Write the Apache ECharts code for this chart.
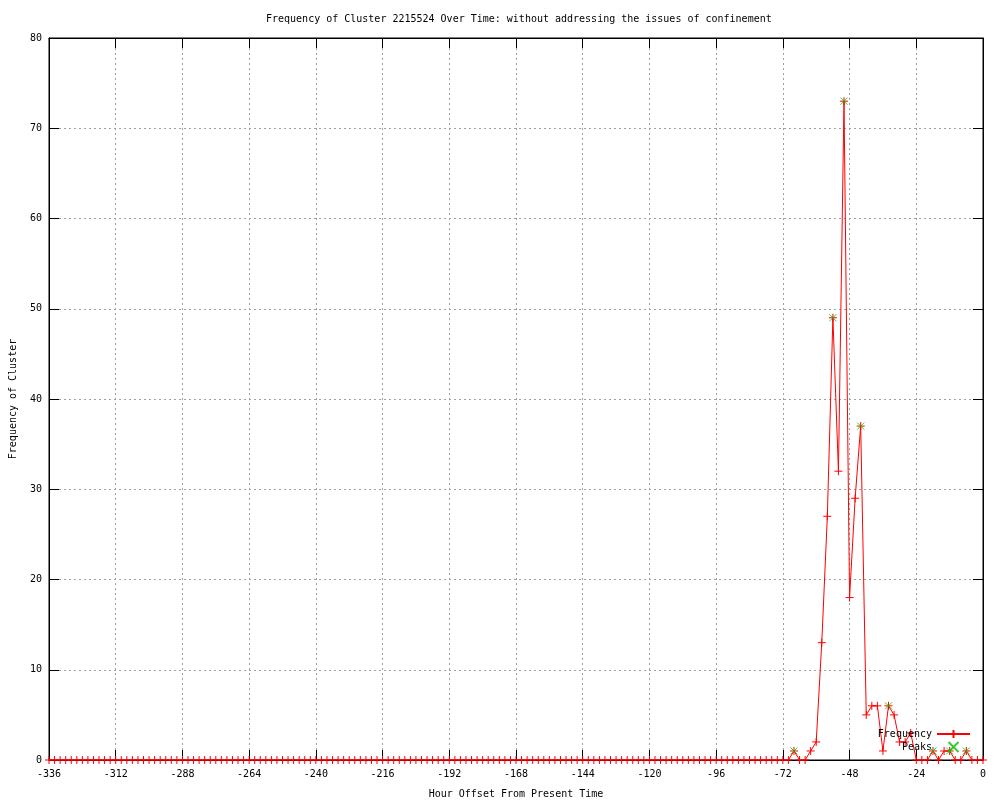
<!DOCTYPE html>
<html>
<head>
<meta charset="utf-8">
<script src="https://cdn.jsdelivr.net/npm/echarts@6/dist/echarts.min.js"></script>
<style>html,body{margin:0;padding:0;background:#fff;}#c{width:1000px;height:800px;}</style>
</head>
<body>
<div id="c"></div>
<script>
const hours = [
-336,-334,-332,-330,-328,-326,-324,-322,-320,-318,
-316,-314,-312,-310,-308,-306,-304,-302,-300,-298,
-296,-294,-292,-290,-288,-286,-284,-282,-280,-278,
-276,-274,-272,-270,-268,-266,-264,-262,-260,-258,
-256,-254,-252,-250,-248,-246,-244,-242,-240,-238,
-236,-234,-232,-230,-228,-226,-224,-222,-220,-218,
-216,-214,-212,-210,-208,-206,-204,-202,-200,-198,
-196,-194,-192,-190,-188,-186,-184,-182,-180,-178,
-176,-174,-172,-170,-168,-166,-164,-162,-160,-158,
-156,-154,-152,-150,-148,-146,-144,-142,-140,-138,
-136,-134,-132,-130,-128,-126,-124,-122,-120,-118,
-116,-114,-112,-110,-108,-106,-104,-102,-100,-98,
-96,-94,-92,-90,-88,-86,-84,-82,-80,-78,
-76,-74,-72,-70,-68,-66,-64,-62,-60,-58,
-56,-54,-52,-50,-48,-46,-44,-42,-40,-38,
-36,-34,-32,-30,-28,-26,-24,-22,-20,-18,
-16,-14,-12,-10,-8,-6,-4,-2,0];
const frequency = [
0,0,0,0,0,0,0,0,0,0,
0,0,0,0,0,0,0,0,0,0,
0,0,0,0,0,0,0,0,0,0,
0,0,0,0,0,0,0,0,0,0,
0,0,0,0,0,0,0,0,0,0,
0,0,0,0,0,0,0,0,0,0,
0,0,0,0,0,0,0,0,0,0,
0,0,0,0,0,0,0,0,0,0,
0,0,0,0,0,0,0,0,0,0,
0,0,0,0,0,0,0,0,0,0,
0,0,0,0,0,0,0,0,0,0,
0,0,0,0,0,0,0,0,0,0,
0,0,0,0,0,0,0,0,0,0,
0,0,0,0,1,0,0,1,2,13,
27,49,32,73,18,29,37,5,6,6,
1,6,5,2,2,3,0,0,0,1,
0,1,1,0,0,1,0,0,0];
const peakHours = [-68,-54,-50,-44,-34,-18,-12,-6];
const peakValues = [1,49,73,37,6,1,1,1];
const xTicks = {min:-336, max:0, interval:24};
const yTicks = {min:0, max:80, interval:10};

const FONT = 'DejaVu Sans Mono';
const freqData = hours.map((h,i)=>[h, frequency[i]]);
const peakData = peakHours.map((h,i)=>[h, peakValues[i]]);
const PLUS = 'path://M0,5L10,5M5,0L5,10';
const CROSS = 'path://M0,0L10,10M10,0L0,10';

const chart = echarts.init(document.getElementById('c'), null, {renderer:'canvas'});
const gridSplit = {show:true, lineStyle:{color:'#a0a0a0', type:[2,3], width:1}};
const mirrorTick = {show:true, inside:true, length:10, lineStyle:{color:'#000'}};
chart.setOption({
  animation:false,
  backgroundColor:'#ffffff',
  title:{
    text:'Frequency of Cluster 2215524 Over Time: without addressing the issues of confinement',
    left:261, top:9,
    textStyle:{fontFamily:FONT, fontSize:10, fontWeight:'normal', color:'#000'}
  },
  grid:{left:49, right:17, top:38, bottom:40, outerBoundsMode:'none', containLabel:false,
        show:true, borderColor:'#000', borderWidth:1, backgroundColor:'transparent'},
  legend:{
    orient:'vertical', right:24, top:724, align:'right',
    itemWidth:33, itemHeight:10, itemGap:2,
    textStyle:{fontFamily:FONT, fontSize:10, color:'#000'},
    data:['Frequency','Peaks']
  },
  xAxis:[{
    type:'value', position:'bottom', min:xTicks.min, max:xTicks.max, interval:xTicks.interval,
    name:'Hour Offset From Present Time', nameLocation:'middle', nameGap:29,
    nameTextStyle:{fontFamily:FONT, fontSize:10, color:'#000'},
    axisLine:{show:true, onZero:false, lineStyle:{color:'#000', width:1}},
    axisTick:{show:true, inside:true, length:10, lineStyle:{color:'#000'}},
    axisLabel:{fontFamily:FONT, fontSize:10, color:'#000', margin:9},
    splitLine:gridSplit
  },{
    type:'value', position:'top', min:xTicks.min, max:xTicks.max, interval:xTicks.interval,
    axisLine:{show:true, onZero:false, lineStyle:{color:'#000', width:1}}, axisTick:mirrorTick,
    axisLabel:{show:false}, splitLine:{show:false}
  }],
  yAxis:[{
    type:'value', position:'left', min:yTicks.min, max:yTicks.max, interval:yTicks.interval,
    name:'Frequency of Cluster', nameLocation:'middle', nameGap:31, nameRotate:90,
    nameTextStyle:{fontFamily:FONT, fontSize:10, color:'#000'},
    axisLine:{show:true, onZero:false, lineStyle:{color:'#000', width:1}},
    axisTick:{show:true, inside:true, length:10, lineStyle:{color:'#000'}},
    axisLabel:{fontFamily:FONT, fontSize:10, color:'#000', margin:7},
    splitLine:gridSplit
  },{
    type:'value', position:'right', min:yTicks.min, max:yTicks.max, interval:yTicks.interval,
    axisLine:{show:true, onZero:false, lineStyle:{color:'#000', width:1}}, axisTick:mirrorTick,
    axisLabel:{show:false}, splitLine:{show:false}
  }],
  series:[{
    name:'Frequency', type:'line', data:freqData,
    showAllSymbol:true, symbol:PLUS, symbolSize:8,
    lineStyle:{color:'#ff0000', width:1},
    itemStyle:{color:'#ff0000', borderColor:'#ff0000', borderWidth:1},
    emphasis:{disabled:true}, z:3
  },{
    name:'Peaks', type:'scatter', data:peakData,
    symbol:CROSS, symbolSize:7,
    itemStyle:{color:'#00c000', borderColor:'#00c000', borderWidth:1},
    emphasis:{disabled:true}, z:4
  }]
});
</script>
</body>
</html>
